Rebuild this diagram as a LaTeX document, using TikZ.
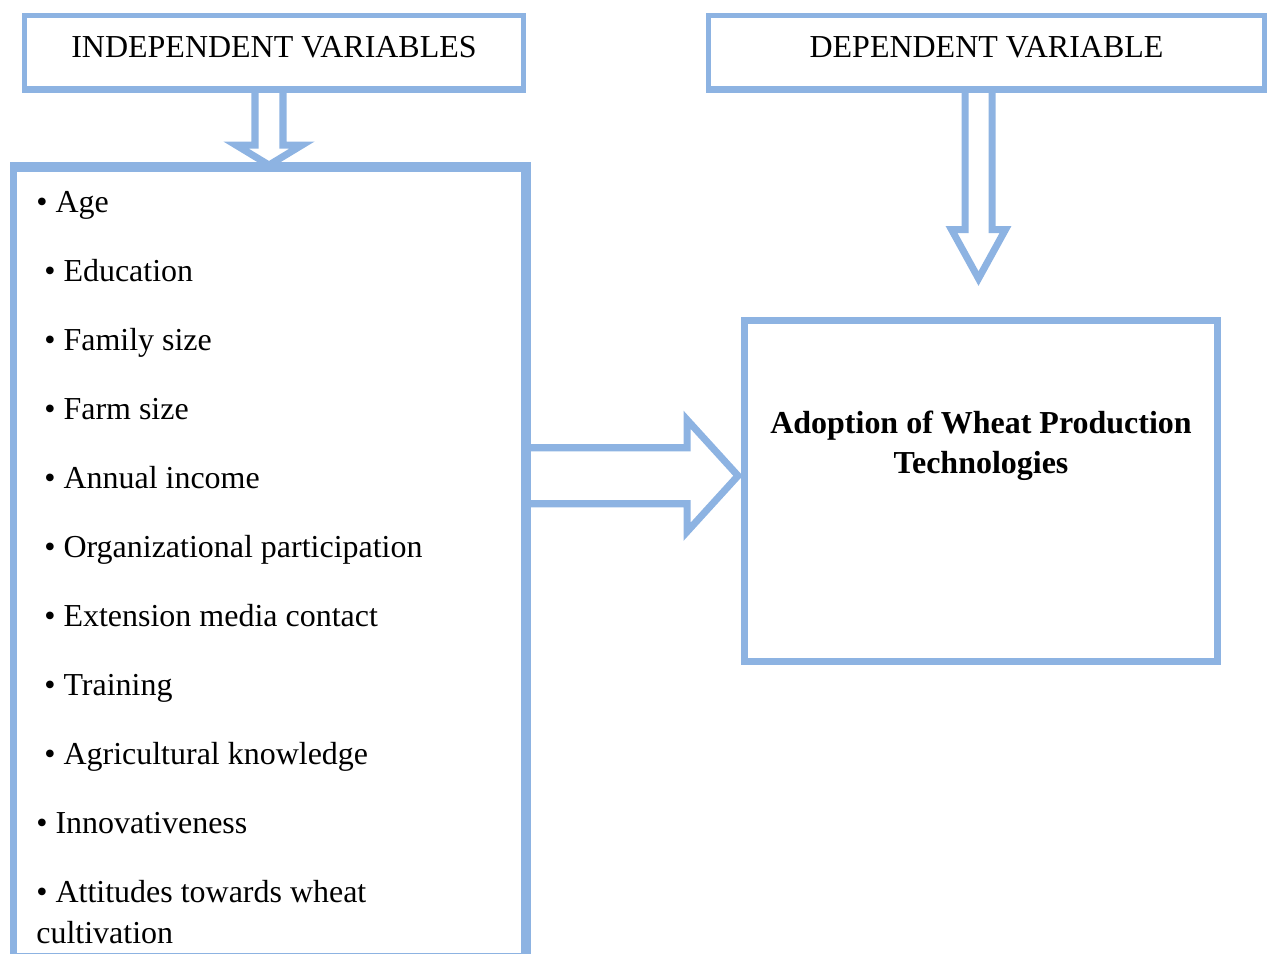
\documentclass[tikz,border=0pt]{standalone}
\usepackage{fontspec}
\setmainfont{Liberation Serif}
\usetikzlibrary{arrows.meta, positioning, calc}
\definecolor{cblue}{HTML}{8DB3E2}
\newcommand{\figfont}{\fontsize{18.2}{23}\selectfont}
\tikzset{
  every picture/.style={font=\figfont},
  headbox/.style={draw=cblue, line width=2.8pt, fill=white, inner sep=0pt, text depth=0.2cm},
  bigbox/.style={draw=cblue, line width=4pt, inner sep=0pt},
  blockarrow/.style={draw=cblue, fill=white, line width=4pt, line join=miter},
  item/.style={anchor=base west, inner sep=0pt, align=left},
}

\begin{document}
\begin{tikzpicture}[x=0.02cm, y=-0.02cm]
  \useasboundingbox (0,0) rectangle (1270,953);
  \node[headbox, minimum width=9.98cm, minimum height=1.46cm] (indep) at (274, 52) {INDEPENDENT VARIABLES};
  \node[headbox, minimum width=11.12cm, minimum height=1.46cm] (dep) at (986.5, 52) {DEPENDENT VARIABLE};
  \node[bigbox, minimum width=10.22cm, minimum height=15.77cm] (factors) at (269, 562.75) {};
  \node[bigbox, minimum width=9.46cm, minimum height=6.83cm] (adoption) at (981, 490.75) {};
  \node[anchor=north, align=center, inner sep=0pt, font=\figfont\bfseries] (adoptext) at ($(adoption.north)+(0,94)$) {Adoption of Wheat Production\\Technologies};
  % factor list
  \foreach \txt/\ind/\dy [count=\i] in {Age/0/0, Education/1/0, Family size/1/0, Farm size/1/0, Annual income/1/0,
      Organizational participation/1/0, Extension media contact/1/0, Training/1/0, Agricultural knowledge/1/0,
      Innovativeness/0/0, {Attitudes towards wheat\\cultivation}/0/41}
    \node[item] (f\i) at ({36+8*\ind}, {212+69*(\i-1)+\dy}) {\textbullet\ \txt};
  % block arrows
  \coordinate (t1) at (factors.north);
  \coordinate (t2) at ($(adoption.north)+(-2.5,-38)$);
  \coordinate (t3) at ($(adoption.west)+(-3,-15)$);
  \draw[blockarrow] ($(indep.south -| t1)+(-14,0)$) -- ($(t1)+(-14,-20)$) -- ($(t1)+(-33,-20)$) -- (t1)
    -- ($(t1)+(33,-20)$) -- ($(t1)+(14,-20)$) -- ($(indep.south -| t1)+(14,0)$);
  \draw[blockarrow] ($(dep.south -| t2)+(-13.5,0)$) -- ($(t2)+(-13.5,-49)$) -- ($(t2)+(-27,-49)$) -- (t2)
    -- ($(t2)+(27,-49)$) -- ($(t2)+(13.5,-49)$) -- ($(dep.south -| t2)+(13.5,0)$);
  \draw[blockarrow] ($(factors.east |- t3)+(0,-28)$) -- ($(t3)+(-51,-28)$) -- ($(t3)+(-51,-56)$) -- (t3)
    -- ($(t3)+(-51,56)$) -- ($(t3)+(-51,28)$) -- ($(factors.east |- t3)+(0,28)$);
  % redraw box edges over the arrow ends
  \draw[cblue, line width=2.8pt] (indep.south west) -- (indep.south east);
  \draw[cblue, line width=2.8pt] (dep.south west) -- (dep.south east);
  \draw[cblue, line width=4pt] (factors.north west) -- (factors.north east) -- (factors.south east);
\end{tikzpicture}
\end{document}
